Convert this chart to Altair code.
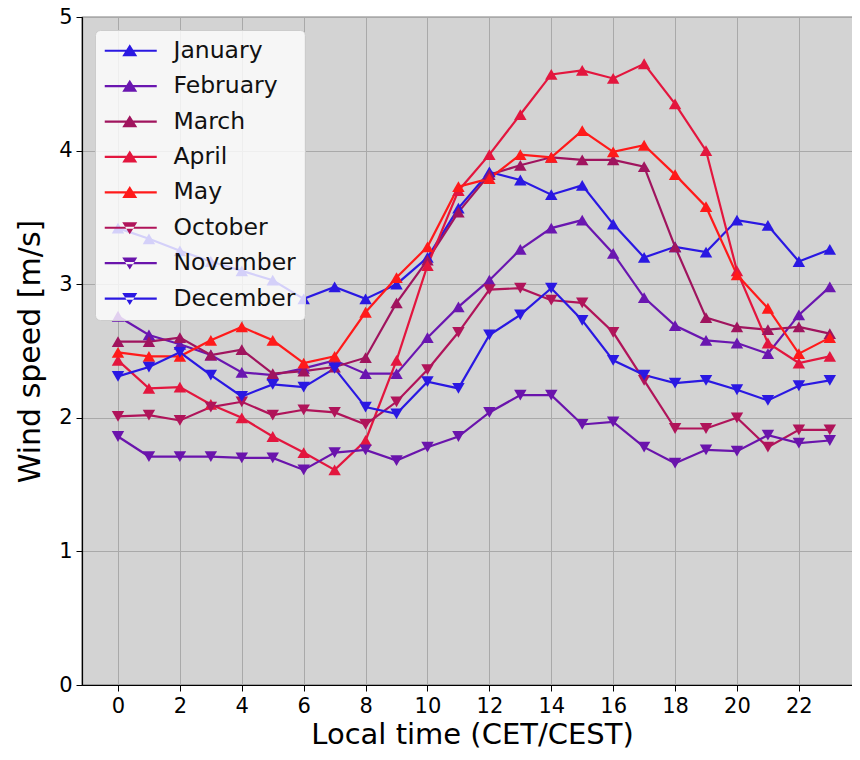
import altair as alt
import pandas as pd

hours = list(range(24))
months = ["January", "February", "March", "April", "May", "October", "November", "December"]
colors = ["#2A18E2", "#6A16B0", "#A0145E", "#E3163E", "#FF1A1A", "#B0145A", "#6A14AC", "#2A18E2"]
markers = ["triangle-up"] * 5 + ["triangle-down"] * 3

jan = [3.42, 3.34, 3.25, 3.17, 3.10, 3.03, 2.89, 2.98, 2.89, 3.00, 3.20, 3.57,
       3.84, 3.78, 3.67, 3.74, 3.45, 3.20, 3.28, 3.24, 3.48, 3.44, 3.17, 3.26]
feb = [2.76, 2.62, 2.55, 2.47, 2.34, 2.32, 2.37, 2.43, 2.33, 2.33, 2.60, 2.83,
       3.03, 3.26, 3.42, 3.48, 3.23, 2.90, 2.69, 2.58, 2.56, 2.48, 2.77, 2.98]
mar = [2.57, 2.57, 2.60, 2.47, 2.51, 2.33, 2.35, 2.38, 2.45, 2.86, 3.18, 3.54,
       3.82, 3.89, 3.95, 3.93, 3.93, 3.88, 3.28, 2.75, 2.68, 2.66, 2.68, 2.63]
apr = [2.43, 2.22, 2.23, 2.10, 2.00, 1.86, 1.74, 1.61, 1.83, 2.43, 3.14, 3.70,
       3.97, 4.27, 4.57, 4.60, 4.54, 4.65, 4.35, 4.00, 3.10, 2.56, 2.41, 2.46]
may = [2.49, 2.46, 2.46, 2.58, 2.68, 2.58, 2.41, 2.46, 2.79, 3.05, 3.28, 3.73,
       3.79, 3.97, 3.95, 4.15, 3.99, 4.04, 3.82, 3.58, 3.07, 2.82, 2.48, 2.60]
octo = [2.01, 2.02, 1.98, 2.08, 2.12, 2.02, 2.06, 2.04, 1.95, 2.12, 2.36, 2.64,
        2.96, 2.97, 2.88, 2.86, 2.64, 2.28, 1.92, 1.92, 2.00, 1.78, 1.91, 1.91]
nov = [1.86, 1.71, 1.71, 1.71, 1.70, 1.70, 1.61, 1.74, 1.76, 1.68, 1.78, 1.86,
       2.04, 2.17, 2.17, 1.95, 1.97, 1.78, 1.66, 1.76, 1.75, 1.87, 1.81, 1.83]
dec = [2.31, 2.38, 2.49, 2.32, 2.16, 2.25, 2.23, 2.37, 2.08, 2.03, 2.27, 2.22,
       2.62, 2.77, 2.97, 2.73, 2.43, 2.32, 2.26, 2.28, 2.21, 2.13, 2.24, 2.28]

x_ticks = list(range(0, 23, 2))
y_ticks = [0, 1, 2, 3, 4, 5]

series = [jan, feb, mar, apr, may, octo, nov, dec]
rows = []
for m, s in zip(months, series):
    for h, v in zip(hours, s):
        rows.append({"hour": h, "speed": v, "month": m})
df = pd.DataFrame(rows)

# legend glyphs: a short line with a triangle on it (custom symbol paths)
line_part = "M-1.1,-0.11H4.1V0.11H-1.1Z"
up_tri = "M1.4,-0.64L2.15,0.56L0.65,0.56Z"
down_tri = "M1.4,0.64L2.15,-0.56L0.65,-0.56Z"
legend_paths = [line_part + " " + (up_tri if mk == "triangle-up" else down_tri) for mk in markers]

x_scale = alt.Scale(domain=[-1.163, 24.04], nice=False, zero=False)
y_scale = alt.Scale(domain=[0, 5], nice=False)

x_enc = alt.X("hour:Q", scale=x_scale,
              axis=alt.Axis(values=x_ticks, title="Local time (CET/CEST)",
                            titleBaseline="alphabetic", titleY=58, titleFontSize=29))
y_enc = alt.Y("speed:Q", scale=y_scale,
              axis=alt.Axis(values=y_ticks, format="d", title="Wind speed [m/s]",
                            titlePadding=13))

color_scale = alt.Scale(domain=months, range=colors)

lines = alt.Chart(df).mark_line(strokeWidth=2.2).encode(
    x=x_enc, y=y_enc,
    color=alt.Color("month:N", scale=color_scale, legend=None),
)

points = alt.Chart(df).mark_point(filled=True, size=155, opacity=1).encode(
    x=x_enc, y=y_enc,
    color=alt.Color("month:N", scale=color_scale, legend=None),
    shape=alt.Shape("month:N", scale=alt.Scale(domain=months, range=markers), legend=None),
)

leg = alt.Legend(title=None, orient="top-left", offset=13, padding=9,
                 fillColor="rgba(255,255,255,0.8)", strokeColor="#cccccc",
                 cornerRadius=5, symbolSize=400, labelFontSize=23.5,
                 labelFont="DejaVu Sans", labelOffset=46, rowPadding=10.4,
                 symbolStrokeWidth=0, labelColor="#111111", symbolOpacity=1,
                 labelLimit=300)

legend_layer = alt.Chart(df).mark_point(filled=True, opacity=0).encode(
    x=x_enc, y=y_enc,
    color=alt.Color("month:N", scale=alt.Scale(domain=months, range=colors), legend=leg),
    shape=alt.Shape("month:N", scale=alt.Scale(domain=months, range=legend_paths), legend=leg),
)

chart = alt.layer(lines, points, legend_layer).resolve_scale(
    shape="independent", color="independent"
).properties(
    width=780, height=668,
    padding={"left": 74, "top": 9, "right": -10, "bottom": 63},
    autosize="none",
).configure_view(
    fill="#D3D3D3", stroke="black", strokeWidth=1.2
).configure_axis(
    labelFont="DejaVu Sans", titleFont="DejaVu Sans",
    labelFontSize=21, titleFontSize=30, titleFontWeight="normal",
    labelColor="black", titleColor="black", tickColor="black",
    domainColor="black", domainWidth=1.2, gridColor="#A9A9A9", gridWidth=1,
    tickSize=6, labelPadding=4, grid=True,
)

chart.save("out.html", embed_options={"renderer": "svg", "actions": False})
